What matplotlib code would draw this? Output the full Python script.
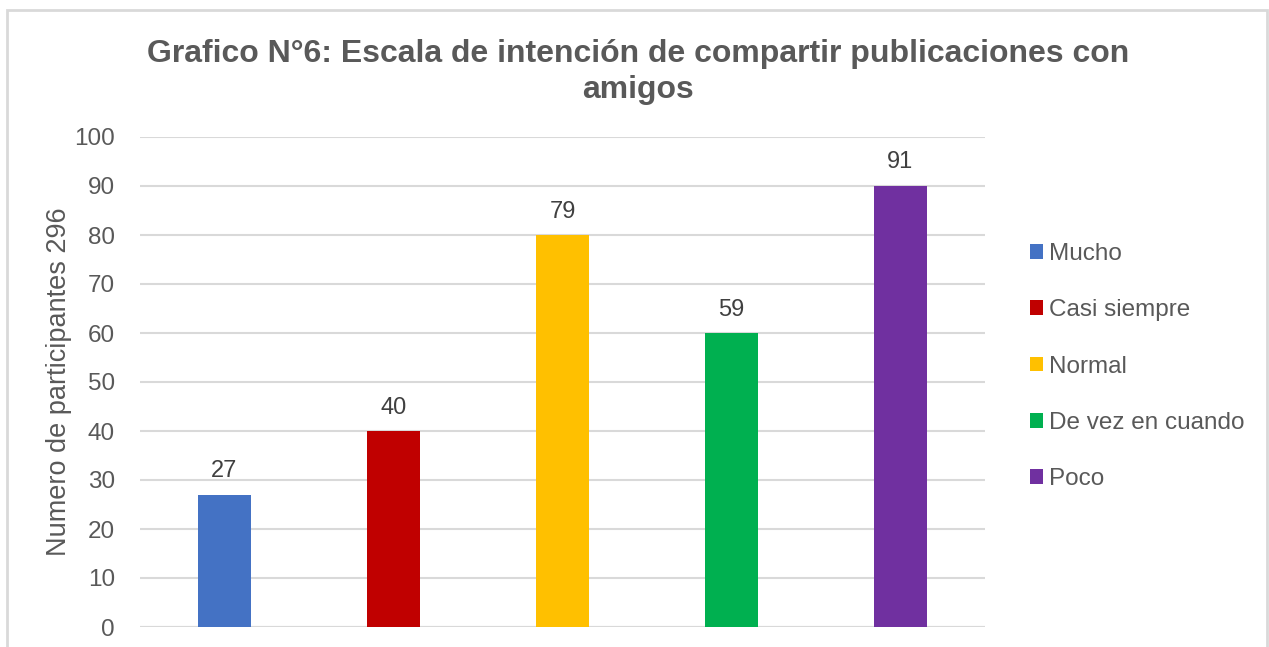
"""
Grafico N°6: Escala de intención de compartir publicaciones con amigos.
"""
import numpy as np
from matplotlib import pyplot as plt
from matplotlib.patches import Rectangle

categories = ["Mucho", "Casi siempre", "Normal", "De vez en cuando", "Poco"]
bar_heights = [27, 40, 80, 60, 90]
bar_labels = ["27", "40", "79", "59", "91"]
colors = ['#4472C4', '#C00000', '#FFC000', '#00B050', '#7030A0']
y_ticks = list(range(0, 101, 10))

plt.rcParams['font.family'] = ['Liberation Sans', 'DejaVu Sans']
text_gray = '#595959'
grid_gray = '#d9d9d9'

fig = plt.figure(figsize=(12.69, 6.47), dpi=100)
W, H = 1269, 647

# chart border (bottom is cut off in the reference)
fig.patches.append(Rectangle((7 / W, -0.1), 1260 / W, 1.1 - 10 / H, transform=fig.transFigure,
                             fill=False, edgecolor=grid_gray, linewidth=2))

ax = fig.add_axes([140 / W, 1 - 627 / H, 845 / W, 490 / H])
x = np.arange(len(categories))
bars = ax.bar(x, bar_heights, width=0.315, color=colors, zorder=2)

for rect, lab in zip(bars, bar_labels):
    ax.annotate(lab, (rect.get_x() + rect.get_width() / 2, rect.get_height()),
                xytext=(0, 9), textcoords='offset points', ha='center', va='bottom',
                fontsize=17, color='#404040')

ax.set_xlim(-0.5, len(categories) - 0.5)
ax.set_ylim(0, 100)
ax.set_yticks(y_ticks)
ax.set_xticks([])
ax.tick_params(axis='y', length=0, labelsize=17.5, labelcolor=text_gray, pad=18)
ax.grid(axis='y', color=grid_gray, linewidth=1.5, zorder=0)
ax.set_axisbelow(True)
for s in ax.spines.values():
    s.set_visible(False)
ax.axhline(0, color=grid_gray, linewidth=1.5, zorder=1)

ax.set_ylabel('Numero de participantes 296', fontsize=19.5, color=text_gray, labelpad=1.5)

fig.text(638 / W, 1 - 72 / H, 'Grafico N°6: Escala de intención de compartir publicaciones con\namigos',
         ha='center', va='center', fontsize=23, fontweight='bold', color=text_gray, linespacing=1.22)

ax.legend(bars, categories, loc='upper left', bbox_to_anchor=(1030 / W, 1 - 243 / H),
          bbox_transform=fig.transFigure, frameon=False, fontsize=17.5, labelcolor=text_gray,
          handlelength=0.55, handleheight=0.55, handletextpad=0.25, labelspacing=1.41, borderpad=0,
          borderaxespad=0)

plt.savefig('out.png', dpi=100)
